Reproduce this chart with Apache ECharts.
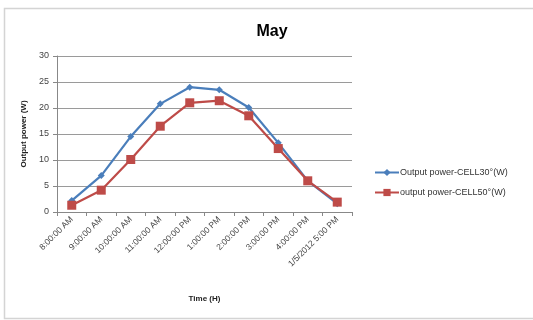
<!DOCTYPE html>
<html>
<head>
<meta charset="utf-8">
<script src="https://cdn.jsdelivr.net/npm/echarts@6/dist/echarts.min.js"></script>
<style>
  html, body { margin: 0; padding: 0; background: #fff; }
  #chart { width: 533px; height: 320px; }
</style>
</head>
<body>
<div id="chart"></div>
<script>
// Hourly output power of two cells over a day in May
const categories = ['8:00:00 AM', '9:00:00 AM', '10:00:00 AM', '11:00:00 AM', '12:00:00 PM',
  '1:00:00 PM', '2:00:00 PM', '3:00:00 PM', '4:00:00 PM', '1/5/2012 5:00 PM'];
const cell30 = [2.2, 7.0, 14.5, 20.8, 24.0, 23.5, 20.1, 13.3, 6.0, 1.6];
const cell50 = [1.3, 4.2, 10.1, 16.5, 21.0, 21.4, 18.5, 12.2, 6.0, 1.9];
const seriesNames = ['Output power-CELL30°(W)', 'output power-CELL50°(W)'];
const yTicks = [0, 5, 10, 15, 20, 25, 30];

const font = 'Liberation Sans, Arial, sans-serif';
const chart = echarts.init(document.getElementById('chart'), null, { renderer: 'canvas' });

chart.setOption({
  animation: false,
  backgroundColor: '#fff',
  graphic: [{
    type: 'rect',
    shape: { x: 4.5, y: 8.5, width: 560, height: 310 },
    style: { fill: 'none', stroke: '#d4d4d4', lineWidth: 1.5 },
    silent: true
  }],
  title: {
    text: 'May',
    left: 267, top: 19, textAlign: 'center',
    textStyle: { fontFamily: font, fontWeight: 'bold', fontSize: 16, color: '#000' }
  },
  legend: {
    orient: 'vertical',
    left: 369, top: 163,
    itemWidth: 24, itemHeight: 9, itemGap: 11,
    textStyle: { fontFamily: font, fontSize: 9, color: '#333', padding: [0, 0, 0, -4] },
    data: seriesNames
  },
  grid: { left: 57, top: 56, width: 295, height: 156, containLabel: false },
  xAxis: {
    type: 'category',
    data: categories,
    boundaryGap: true,
    name: 'Time (H)',
    nameLocation: 'middle',
    nameGap: 83,
    nameTextStyle: { fontFamily: font, fontWeight: 'bold', fontSize: 8, color: '#222' },
    axisLine: { lineStyle: { color: '#888', width: 1 } },
    axisTick: { show: true, alignWithLabel: false, length: 4, lineStyle: { color: '#888' } },
    axisLabel: { rotate: 45, fontFamily: font, fontSize: 8.5, color: '#444', margin: 6, interval: 0 }
  },
  yAxis: {
    type: 'value',
    min: yTicks[0], max: yTicks[yTicks.length - 1], interval: 5,
    name: 'Output power (W)',
    nameLocation: 'middle',
    nameGap: 28,
    nameTextStyle: { fontFamily: font, fontWeight: 'bold', fontSize: 8, color: '#222' },
    axisLine: { show: true, lineStyle: { color: '#888' } },
    axisTick: { show: true, length: 4, lineStyle: { color: '#888' } },
    axisLabel: { fontFamily: font, fontSize: 9, color: '#444', margin: 8 },
    splitLine: { lineStyle: { color: '#9a9a9a', width: 1 } }
  },
  series: [
    {
      name: seriesNames[0], type: 'line', data: cell30,
      symbol: 'diamond', symbolSize: 7,
      lineStyle: { color: '#4a7ebb', width: 2.2 },
      itemStyle: { color: '#4a7ebb' }
    },
    {
      name: seriesNames[1], type: 'line', data: cell50,
      symbol: 'rect', symbolSize: 9,
      lineStyle: { color: '#be4b48', width: 2.2 },
      itemStyle: { color: '#be4b48' }
    }
  ]
});
</script>
</body>
</html>
